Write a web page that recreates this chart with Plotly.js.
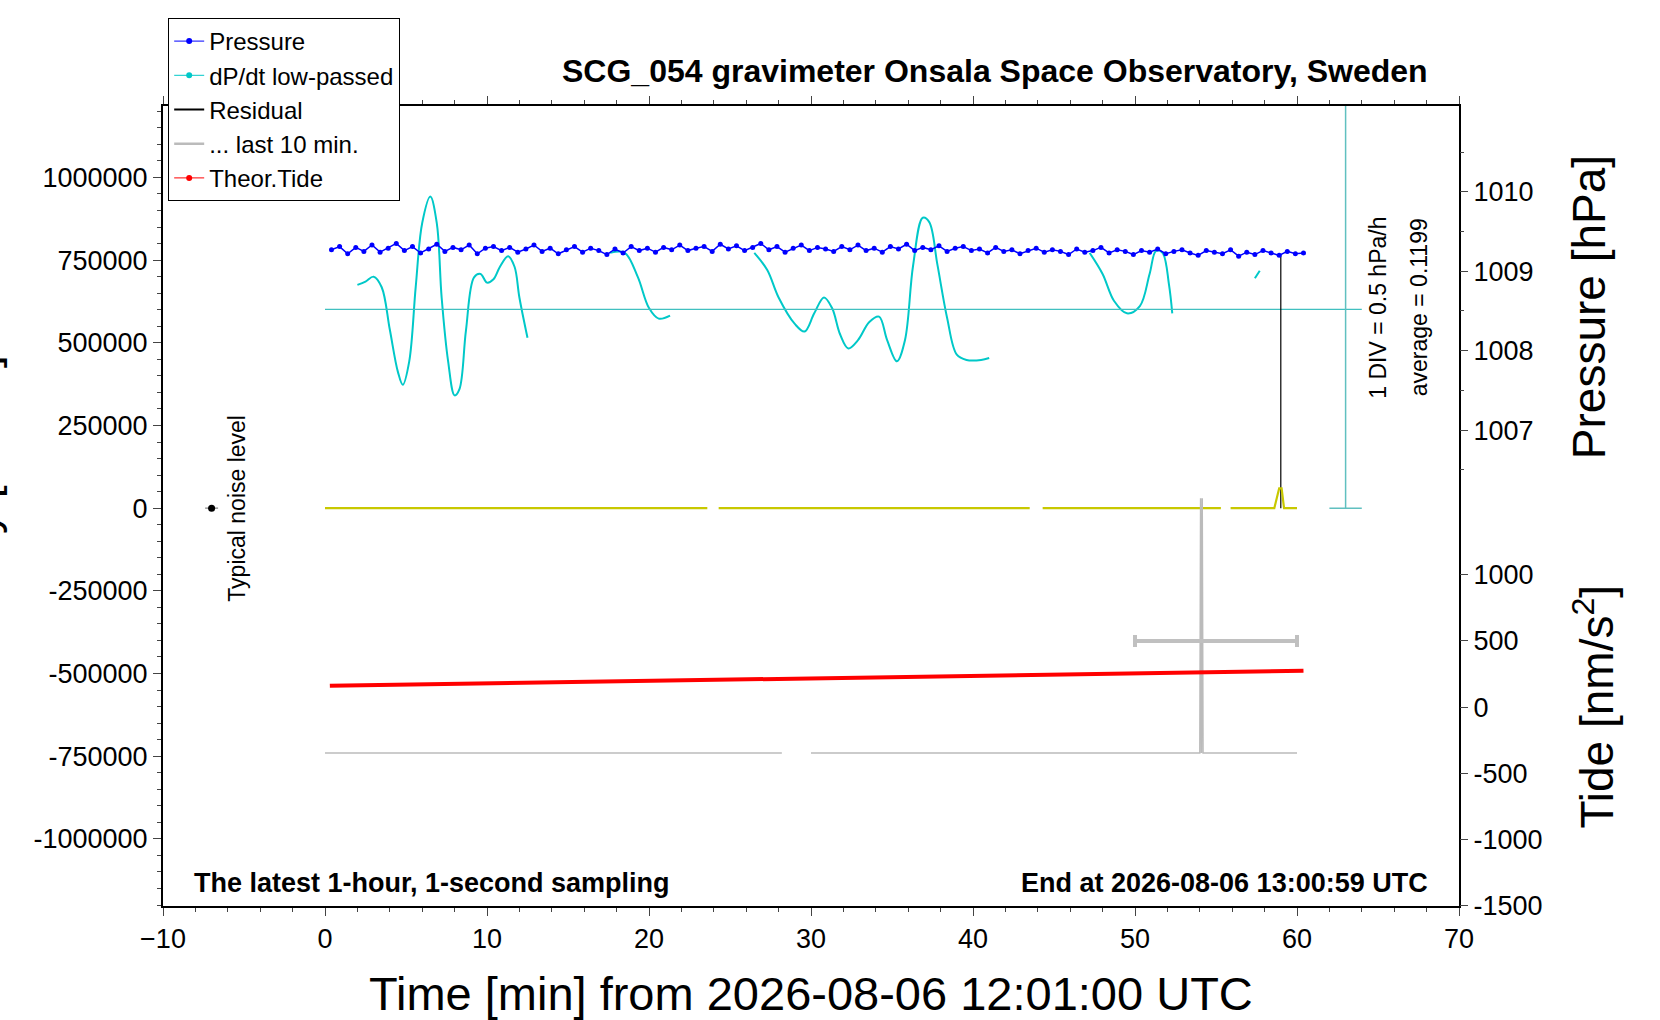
<!DOCTYPE html>
<html>
<head>
<meta charset="utf-8">
<script src="https://cdn.plot.ly/plotly-3.0.1.min.js"></script>
<style>body{margin:0;background:#fff}#plot{width:1660px;height:1020px}</style>
</head>
<body>
<div id="plot"></div>
<script>
// Pressure [hPa], every 0.5 min from t = 0.4
var pressureStart = 0.4;
var pressure = [1009.27,1009.31,1009.22,1009.30,1009.25,1009.33,1009.24,1009.29,1009.35,1009.26,
  1009.31,1009.23,1009.28,1009.34,1009.25,1009.30,1009.27,1009.33,1009.22,1009.29,
  1009.31,1009.26,1009.30,1009.24,1009.28,1009.33,1009.25,1009.29,1009.22,1009.27,
  1009.31,1009.24,1009.29,1009.26,1009.21,1009.28,1009.23,1009.31,1009.26,1009.29,
  1009.24,1009.30,1009.27,1009.33,1009.26,1009.29,1009.31,1009.25,1009.34,1009.28,
  1009.32,1009.26,1009.30,1009.35,1009.27,1009.31,1009.24,1009.29,1009.33,1009.26,
  1009.30,1009.28,1009.25,1009.31,1009.27,1009.33,1009.26,1009.29,1009.24,1009.31,
  1009.28,1009.34,1009.26,1009.30,1009.27,1009.32,1009.25,1009.29,1009.31,1009.26,
  1009.28,1009.23,1009.30,1009.25,1009.27,1009.22,1009.26,1009.29,1009.24,1009.27,
  1009.25,1009.21,1009.28,1009.24,1009.26,1009.30,1009.23,1009.27,1009.25,1009.21,
  1009.26,1009.24,1009.28,1009.22,1009.25,1009.27,1009.23,1009.20,1009.26,1009.24,
  1009.22,1009.27,1009.19,1009.24,1009.21,1009.26,1009.23,1009.20,1009.25,1009.22,1009.23];
var pressureT = pressure.map(function(p, i) { return pressureStart + i * 0.5; });

// dP/dt low-passed, drawn on the left scale (segments separated by null)
var dpdtT = [2.0,2.5,3.0,3.5,4.0,4.5,4.8,5.2,5.6,6.0,6.5,6.9,7.2,7.6,8.0,8.3,8.7,9.2,9.6,10.0,10.4,10.8,11.3,11.7,12.0,12.5,null,
  17.6,18.5,19.3,20.0,20.6,21.3,null,
  26.5,27.3,28.0,29.0,29.6,30.2,30.8,31.3,31.8,32.3,32.9,33.6,34.2,34.7,35.3,35.8,36.3,36.9,37.3,37.8,38.4,39.0,39.6,40.5,41.0,null,
  47.2,48.0,48.7,49.5,50.3,50.9,51.3,51.7,52.1,52.3,null,
  57.4,57.7];
var dpdtV = [675000,685000,700000,668000,540000,412000,373000,444000,669000,862000,942000,862000,637000,444000,341000,360000,537000,698000,708000,682000,692000,730000,762000,730000,637000,515000,null,
  772000,772000,700000,605000,573000,582000,null,
  772000,720000,637000,557000,534000,589000,637000,605000,525000,483000,508000,563000,579000,508000,444000,508000,733000,878000,865000,737000,576000,464000,448000,448000,454000,null,
  772000,708000,627000,589000,611000,708000,778000,772000,675000,589000,null,
  695000,718000];
var dpdtAverage = 601000;

var tideT = [0.3, 60.4];
var tideV = [-537000, -492000];

var residualT = [0, 23.6, 23.9, 24.3, 43.5, 43.9, 44.3, 55.3, 55.6, 55.9, 58.6, 58.9, 59.05, 59.2, 59.5, 60];
var residualV = [0, 0, null, 0, 0, null, 0, 0, null, 0, 0, 60000, 60000, 0, 0, 0];

var last10T = [0, 28.2, null, 30.0, 54.0, 54.05, 54.1, 54.15, 54.2, 60];
var last10V = [-740000, -740000, null, -740000, -740000, 30000, -740000, 30000, -740000, -740000];

var noiseT = [-7.0];
var noiseV = [0];

var F = 'Liberation Sans, Arial, sans-serif';
var axisFont = {family: F, size: 27, color: '#000'};

var data = [
  {x: pressureT, y: pressure, yaxis: 'y2', type: 'scatter', mode: 'lines+markers',
   marker: {color: '#0000ff', size: 5}, line: {color: '#0000ff', width: 1.5}, showlegend: false},
  {x: dpdtT, y: dpdtV, type: 'scatter', mode: 'lines', line: {color: '#00c8c8', width: 2, shape: 'spline'},
   connectgaps: false, showlegend: false},
  {x: [0, 64], y: [dpdtAverage, dpdtAverage], type: 'scatter', mode: 'lines',
   line: {color: '#40c0c0', width: 1.2}, showlegend: false},
  {x: [63, 63], y: [0, 1216000], type: 'scatter', mode: 'lines', line: {color: '#60c0c0', width: 1.5}, showlegend: false},
  {x: [62, 64], y: [0, 0], type: 'scatter', mode: 'lines', line: {color: '#60c0c0', width: 1.5}, showlegend: false},
  {x: [59.0, 59.0], y: [0, 765000], type: 'scatter', mode: 'lines', line: {color: '#000', width: 1.2}, showlegend: false},
  {x: residualT, y: residualV, type: 'scatter', mode: 'lines', line: {color: '#c8c800', width: 2.2}, showlegend: false},
  {x: last10T, y: last10V, type: 'scatter', mode: 'lines', line: {color: '#bbbbbb', width: 1.5}, showlegend: false},
  {x: [55], y: [-402000], type: 'scatter', mode: 'markers', marker: {color: '#c0c0c0', size: 3},
   error_x: {type: 'constant', value: 5, color: '#c0c0c0', thickness: 4, width: 6}, showlegend: false},
  {x: tideT, y: tideV, type: 'scatter', mode: 'lines', line: {color: '#ff0000', width: 4}, showlegend: false},
  {x: noiseT, y: noiseV, type: 'scatter', mode: 'markers', marker: {color: '#000', size: 7},
   error_x: {type: 'constant', value: 0.4, color: '#999', thickness: 1.5, width: 0}, showlegend: false},
  // legend entries
  {x: [null], y: [null], type: 'scatter', mode: 'lines+markers', name: 'Pressure',
   line: {color: '#0000ff', width: 1}, marker: {color: '#0000ff', size: 6}},
  {x: [null], y: [null], type: 'scatter', mode: 'lines+markers', name: 'dP/dt low-passed',
   line: {color: '#00c8c8', width: 1}, marker: {color: '#00c8c8', size: 6}},
  {x: [null], y: [null], type: 'scatter', mode: 'lines', name: 'Residual', line: {color: '#000', width: 2}},
  {x: [null], y: [null], type: 'scatter', mode: 'lines', name: '... last 10 min.', line: {color: '#bbbbbb', width: 2.5}},
  {x: [null], y: [null], type: 'scatter', mode: 'lines+markers', name: 'Theor.Tide',
   line: {color: '#ff0000', width: 1}, marker: {color: '#ff0000', size: 6}},
  {x: [null], y: [null], yaxis: 'y3', type: 'scatter', showlegend: false}
];

var layout = {
  width: 1660, height: 1020,
  margin: {l: 163, r: 201, t: 106, b: 114},
  paper_bgcolor: '#fff', plot_bgcolor: '#fff',
  font: {family: F, color: '#000'},
  showlegend: true,
  legend: {x: 0.004, y: 1.11, xanchor: 'left', yanchor: 'top', bordercolor: '#000', borderwidth: 1,
    bgcolor: '#fff', font: {size: 24}, tracegroupgap: 0},
  xaxis: {range: [-10, 70], tickvals: [-10, 0, 10, 20, 30, 40, 50, 60, 70], showgrid: false, zeroline: false,
    showline: true, linewidth: 2, linecolor: '#000', mirror: 'ticks', ticks: 'outside', ticklen: 8,
    tickfont: axisFont, minor: {dtick: 2, ticks: 'outside', ticklen: 4}},
  yaxis: {range: [-1203000, 1216000], tickvals: [-1000000, -750000, -500000, -250000, 0, 250000, 500000, 750000, 1000000],
    ticktext: ['-1000000', '-750000', '-500000', '-250000', '0', '250000', '500000', '750000', '1000000'],
    showgrid: false, zeroline: false, showline: true, linewidth: 2, linecolor: '#000', mirror: true,
    ticks: 'outside', ticklen: 8, tickfont: axisFont, minor: {dtick: 50000, ticks: 'outside', ticklen: 4}},
  yaxis2: {overlaying: 'y', side: 'right', range: [1001.01, 1011.08], tickvals: [1007, 1008, 1009, 1010],
    showgrid: false, zeroline: false, ticks: 'outside', ticklen: 8, tickfont: axisFont,
    minor: {tickvals: [1006.5, 1007.5, 1008.5, 1009.5, 1010.5], ticks: 'outside', ticklen: 4}},
  yaxis3: {overlaying: 'y', side: 'right', range: [-1503, 4542], tickvals: [-1500, -1000, -500, 0, 500, 1000],
    ticktext: ['-1500', '-1000', '-500', '0', '500', '1000'],
    showgrid: false, zeroline: false, ticks: 'outside', ticklen: 8, tickfont: axisFont},
  annotations: [
    {text: '<b>SCG_054 gravimeter Onsala Space Observatory, Sweden</b>', xref: 'paper', yref: 'paper',
     x: 0.642, y: 1.044, xanchor: 'center', yanchor: 'middle', showarrow: false, font: {size: 32}},
    {text: '<b>The latest 1-hour, 1-second sampling</b>', xref: 'paper', yref: 'paper', x: 0.022, y: 0.029,
     xanchor: 'left', yanchor: 'middle', showarrow: false, font: {size: 27}},
    {text: '<b>End at 2026-08-06 13:00:59 UTC</b>', xref: 'paper', yref: 'paper', x: 0.978, y: 0.029,
     xanchor: 'right', yanchor: 'middle', showarrow: false, font: {size: 27}},
    {text: 'Time [min] from 2026-08-06 12:01:00 UTC', xref: 'paper', yref: 'paper', x: 0.5, y: -0.109,
     xanchor: 'center', yanchor: 'middle', showarrow: false, font: {size: 47}},
    {text: 'Typical noise level', x: -5.4, y: 0, textangle: -90, showarrow: false, font: {size: 23},
     xanchor: 'center', yanchor: 'middle'},
    {text: '1 DIV = 0.5 hPa/h', x: 65.0, y: 606000, textangle: -90, showarrow: false, font: {size: 23},
     xanchor: 'center', yanchor: 'middle'},
    {text: 'average = 0.1199', x: 67.5, y: 606000, textangle: -90, showarrow: false, font: {size: 23},
     xanchor: 'center', yanchor: 'middle'},
    {text: 'Pressure [hPa]', xref: 'paper', yref: 'paper', x: 1.10, y: 0.748, textangle: -90,
     showarrow: false, font: {size: 46}, xanchor: 'center', yanchor: 'middle'},
    {text: 'Tide [nm/s<sup>2</sup>]', xref: 'paper', yref: 'paper', x: 1.104, y: 0.249, textangle: -90,
     showarrow: false, font: {size: 46}, xanchor: 'center', yanchor: 'middle'},
    {text: 'Gravity [nm/s<sup>2</sup>]', xref: 'paper', yref: 'paper', x: -0.119, y: 0.5, textangle: -90,
     showarrow: false, font: {size: 46}, xanchor: 'right', yanchor: 'middle'}
  ]
};

Plotly.newPlot('plot', data, layout, {staticPlot: true});
</script>
</body>
</html>
